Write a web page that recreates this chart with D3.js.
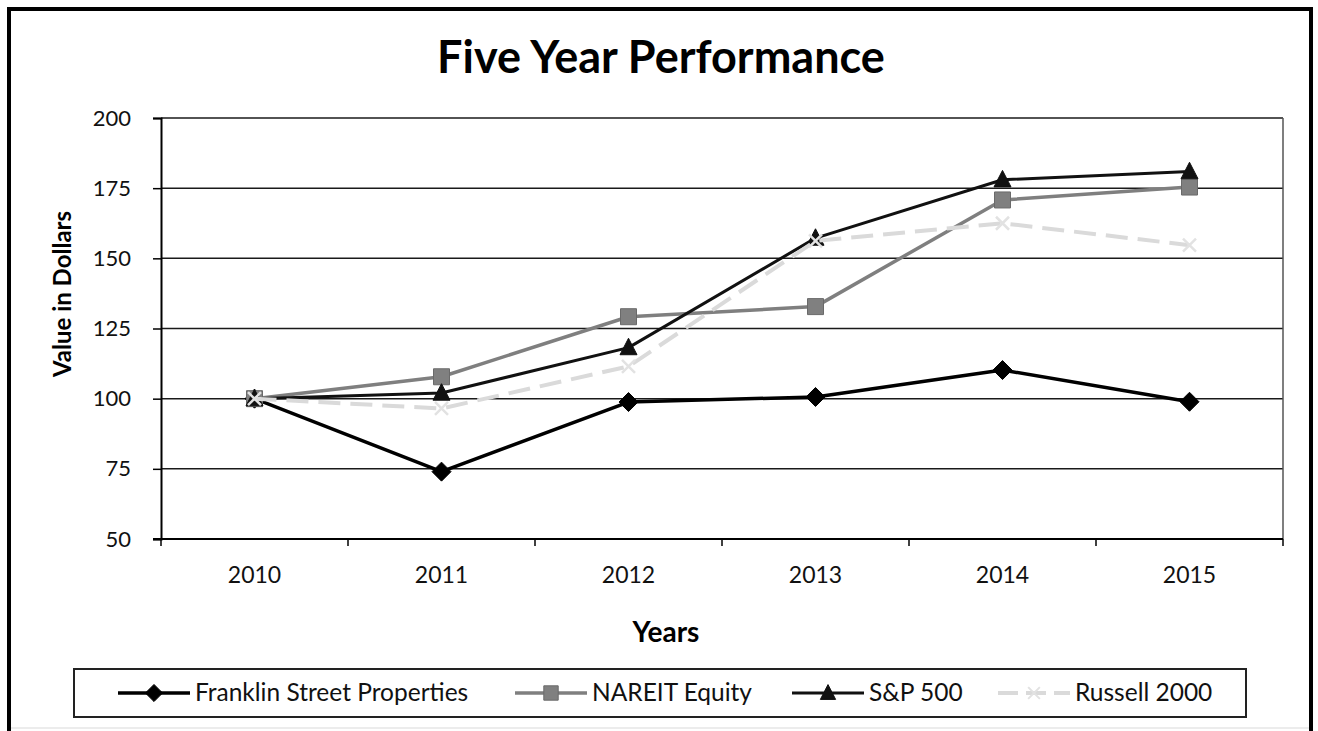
<!DOCTYPE html>
<html>
<head>
<meta charset="utf-8">
<script src="https://cdn.jsdelivr.net/npm/d3@7"></script>
<style>
  html, body { margin: 0; padding: 0; background: #fff; }
  svg { display: block; font-family: Lato, "Open Sans", sans-serif; }
</style>
</head>
<body>
<svg id="chart" width="1318" height="731"></svg>
<script>
const years = ["2010", "2011", "2012", "2013", "2014", "2015"];
const franklin = [100, 74, 98.8, 100.6, 110.2, 98.9];
const nareit = [100, 107.8, 129.2, 132.8, 170.8, 175.4];
const sp500 = [100, 102, 118.2, 157.2, 178, 180.9];
const russell = [100, 96.5, 111.5, 156.2, 162.5, 154.7];
const yTicks = [50, 75, 100, 125, 150, 175, 200];

const seriesNames = ["Franklin Street Properties", "NAREIT Equity", "S&P 500", "Russell 2000"];
const seriesValues = [franklin, nareit, sp500, russell];
const seriesStyle = [
  { color: "#000", width: 3.5, dash: null, marker: "diamond", mfill: "#000", mstroke: "#000", msize: 19 },
  { color: "#7f7f7f", width: 3.5, dash: null, marker: "square", mfill: "#808080", mstroke: "#6a6a6a", msize: 16 },
  { color: "#111", width: 3, dash: null, marker: "triangle", mfill: "#111", mstroke: "#111", msize: 17 },
  { color: "#dadada", width: 4, dash: "22,10", marker: "x", mfill: "none", mstroke: "#e2e2e2", msize: 13 }
];

const svg = d3.select("#chart");

// outer border
svg.append("path")
  .attr("d", `M9,740 V9 H1311 V740`)
  .attr("fill", "none").attr("stroke", "#000").attr("stroke-width", 4);
svg.append("line").attr("x1", 11).attr("x2", 1309).attr("y1", 728).attr("y2", 728)
  .attr("stroke", "#e6e6e6").attr("stroke-width", 1.5);

const plot = { left: 161, right: 1283, top: 118, bottom: 539 };

const x = d3.scaleBand().domain(years).range([plot.left, plot.right]).paddingInner(0).paddingOuter(0);
const y = d3.scaleLinear().domain([50, 200]).range([plot.bottom, plot.top]);

// gridlines
svg.append("g").selectAll("line").data(yTicks.filter(d => d > 50)).join("line")
  .attr("x1", plot.left).attr("x2", plot.right)
  .attr("y1", d => y(d)).attr("y2", d => y(d))
  .attr("stroke", "#1a1a1a").attr("stroke-width", 1.5);

// plot right border
svg.append("line").attr("x1", plot.right).attr("x2", plot.right)
  .attr("y1", plot.top).attr("y2", plot.bottom)
  .attr("stroke", "#555").attr("stroke-width", 1.5);

// y axis
const yAxis = d3.axisLeft(y).tickValues(yTicks).tickSize(8).tickPadding(22);
const gy = svg.append("g").attr("transform", `translate(${plot.left},0)`).call(yAxis);
gy.select(".domain").attr("stroke", "#000").attr("stroke-width", 2);
gy.selectAll(".tick line").attr("stroke", "#000").attr("stroke-width", 1.5);
gy.selectAll(".tick text").attr("font-size", 22).attr("fill", "#111")
  .attr("font-family", "Lato, sans-serif");

// x axis (ticks at category boundaries)
const xAxisLine = svg.append("g");
xAxisLine.append("line").attr("x1", plot.left - 8).attr("x2", plot.right)
  .attr("y1", plot.bottom).attr("y2", plot.bottom)
  .attr("stroke", "#000").attr("stroke-width", 2);
const boundaries = years.map(d => x(d)).concat([x(years[years.length - 1]) + x.bandwidth()]);
xAxisLine.selectAll("line.tk").data(boundaries).join("line").attr("class", "tk")
  .attr("x1", d => d).attr("x2", d => d)
  .attr("y1", plot.bottom).attr("y2", plot.bottom + 7)
  .attr("stroke", "#000").attr("stroke-width", 1.5);
xAxisLine.selectAll("text").data(years).join("text")
  .attr("x", d => x(d) + x.bandwidth() / 2).attr("y", 583)
  .attr("text-anchor", "middle").attr("font-size", 23).attr("fill", "#111")
  .text(d => d);

// titles
svg.append("text").attr("x", 661).attr("y", 73).attr("text-anchor", "middle")
  .attr("font-size", 45).attr("font-weight", "bold").attr("fill", "#000")
  .text("Five Year Performance");
svg.append("text").attr("x", 666).attr("y", 642).attr("text-anchor", "middle")
  .attr("font-size", 28).attr("font-weight", "bold").attr("fill", "#000")
  .text("Years");
svg.append("text").attr("transform", "translate(71,294) rotate(-90)")
  .attr("text-anchor", "middle")
  .attr("font-size", 24).attr("font-weight", "bold").attr("fill", "#000")
  .text("Value in Dollars");

// marker shapes (size = full extent in px)
function markerPath(type, s) {
  const p = d3.path();
  if (type === "diamond") {
    p.moveTo(0, -s / 2); p.lineTo(s / 2, 0); p.lineTo(0, s / 2); p.lineTo(-s / 2, 0); p.closePath();
  } else if (type === "square") {
    p.rect(-s / 2, -s / 2, s, s);
  } else if (type === "triangle") {
    p.moveTo(0, -s * 0.55); p.lineTo(s / 2, s * 0.42); p.lineTo(-s / 2, s * 0.42); p.closePath();
  } else {
    p.moveTo(-s / 2, -s / 2); p.lineTo(s / 2, s / 2); p.moveTo(s / 2, -s / 2); p.lineTo(-s / 2, s / 2);
  }
  return p.toString();
}

const line = d3.line().x((d, i) => x(years[i]) + x.bandwidth() / 2).y(d => y(d));

seriesValues.forEach((vals, si) => {
  const st = seriesStyle[si];
  const g = svg.append("g");
  g.append("path").datum(vals).attr("d", line)
    .attr("fill", "none").attr("stroke", st.color).attr("stroke-width", st.width)
    .attr("stroke-dasharray", st.dash).attr("stroke-linejoin", "round");
  g.selectAll("path.m").data(vals).join("path").attr("class", "m")
    .attr("transform", (d, i) => `translate(${x(years[i]) + x.bandwidth() / 2},${y(d)})`)
    .attr("d", markerPath(st.marker, st.msize))
    .attr("fill", st.mfill).attr("stroke", st.mstroke)
    .attr("stroke-width", st.marker === "x" ? 2.5 : 1);
});

// legend
const leg = svg.append("g");
leg.append("rect").attr("x", 74).attr("y", 669).attr("width", 1172).attr("height", 48)
  .attr("fill", "#fff").attr("stroke", "#222").attr("stroke-width", 2);
const legX = [118, 515, 792, 998];
seriesNames.forEach((name, si) => {
  const st = seriesStyle[si];
  const cy = 693;
  const x0 = legX[si];
  leg.append("line").attr("x1", x0).attr("x2", x0 + 72).attr("y1", cy).attr("y2", cy)
    .attr("stroke", st.color).attr("stroke-width", st.width)
    .attr("stroke-dasharray", st.dash ? "20,8" : null);
  leg.append("path").attr("transform", `translate(${x0 + 36},${cy})`)
    .attr("d", markerPath(st.marker, st.msize * 0.9))
    .attr("fill", st.mfill).attr("stroke", st.mstroke)
    .attr("stroke-width", st.marker === "x" ? 2 : 1);
  leg.append("text").attr("x", x0 + 77).attr("y", cy + 8)
    .attr("font-size", 24.5).attr("fill", "#111").text(name);
});
</script>
</body>
</html>
